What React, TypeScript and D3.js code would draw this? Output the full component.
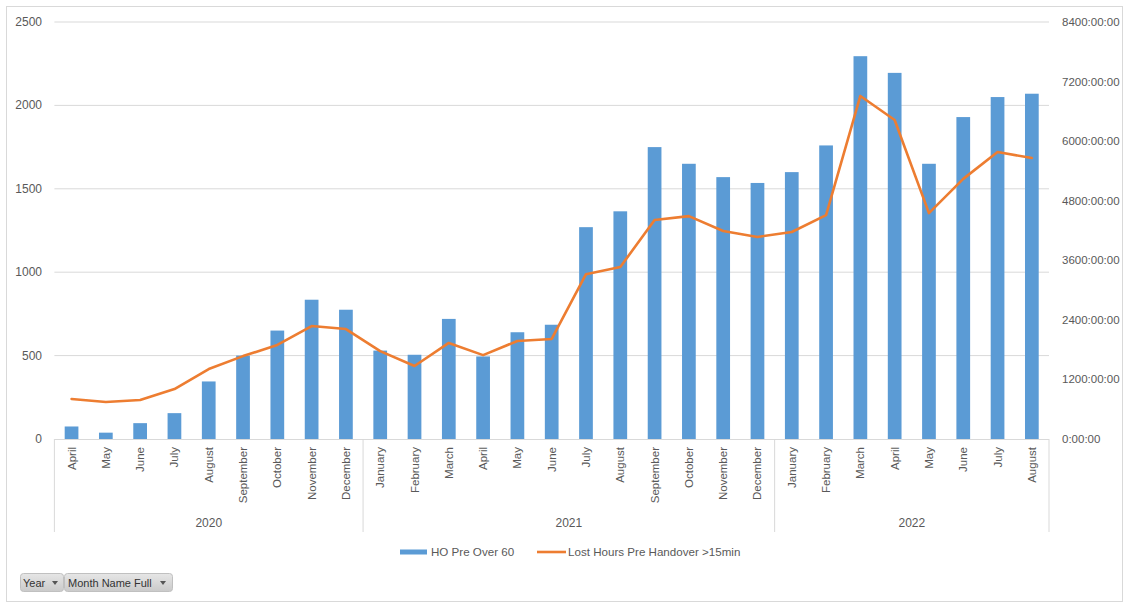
import React from "react";
import * as d3 from "d3";

const BAR_COLOR = "#5B9BD5";
const LINE_COLOR = "#ED7D31";
const GRID = "#D9D9D9";
const TEXT = "#595959";
const FONT = "'Liberation Sans', Arial, sans-serif";

const MONTHS = [
  "April", "May", "June", "July", "August", "September", "October", "November", "December",
  "January", "February", "March", "April", "May", "June", "July", "August", "September", "October", "November", "December",
  "January", "February", "March", "April", "May", "June", "July", "August",
];
const YEARS = [
  "2020", "2020", "2020", "2020", "2020", "2020", "2020", "2020", "2020",
  "2021", "2021", "2021", "2021", "2021", "2021", "2021", "2021", "2021", "2021", "2021", "2021",
  "2022", "2022", "2022", "2022", "2022", "2022", "2022", "2022",
];
// bars: HO Pre Over 60 (left axis)
const HO_PRE_OVER_60 = [
  75, 38, 95, 155, 345, 500, 650, 835, 775,
  530, 505, 720, 495, 640, 685, 1270, 1365, 1750, 1650, 1570, 1535,
  1600, 1760, 2295, 2195, 1650, 1930, 2050, 2070,
];
// line: Lost Hours Pre Handover >15min, in hours (right axis)
const LOST_HOURS = [
  805, 745, 785, 1005, 1410, 1670, 1895, 2275, 2215,
  1770, 1470, 1935, 1690, 1975, 2015, 3320, 3465, 4410, 4490, 4190, 4070,
  4170, 4510, 6910, 6425, 4550, 5240, 5780, 5660,
];
const LEFT_TICKS = [0, 500, 1000, 1500, 2000, 2500];
const RIGHT_TICKS = [0, 1200, 2400, 3600, 4800, 6000, 7200, 8400];

const W = 1126;
const H = 603;
const left = 54.4;
const right = 1049;
const top = 22;
const bottom = 439;

export default function App() {
  const idx = MONTHS.map((_, i) => i);
  const x = d3.scaleBand<number>().domain(idx).range([left, right]).paddingInner(0.6).paddingOuter(0.3);
  const step = x.step();
  const yL = d3.scaleLinear().domain([0, 2500]).range([bottom, top]);
  const yR = d3.scaleLinear().domain([0, 8400]).range([bottom, top]);
  const cx = (i: number) => (x(i) as number) + x.bandwidth() / 2;

  const line = d3.line<number>().x((_, i) => cx(i)).y((d) => yR(d));

  // year groups from the categories
  const groups: { year: string; start: number; end: number }[] = [];
  YEARS.forEach((y, i) => {
    const g = groups[groups.length - 1];
    if (g && g.year === y) g.end = i;
    else groups.push({ year: y, start: i, end: i });
  });
  const edge = (i: number) => left + i * step;

  return (
    <svg width={W} height={H} style={{ position: "absolute", left: 0, top: 0, background: "#fff" }} fontFamily={FONT}>
      <defs>
        <linearGradient id="btn" x1="0" y1="0" x2="0" y2="1">
          <stop offset="0" stopColor="#E6E6E6" />
          <stop offset="1" stopColor="#CACACA" />
        </linearGradient>
      </defs>
      <rect x={6.5} y={6.5} width={1116} height={595} fill="#fff" stroke={GRID} />

      {/* gridlines */}
      {LEFT_TICKS.filter((t) => t > 0).map((t) => (
        <line key={t} x1={left} x2={right} y1={yL(t)} y2={yL(t)} stroke={GRID} strokeWidth={1} />
      ))}
      {/* left axis labels */}
      {LEFT_TICKS.map((t) => (
        <text key={t} x={42} y={yL(t) + 4} textAnchor="end" fontSize={12} fill={TEXT}>{t}</text>
      ))}
      {/* right axis labels */}
      {RIGHT_TICKS.map((t) => (
        <text key={t} x={1062} y={yR(t) + 4} textAnchor="start" fontSize={11.5} fill={TEXT}>{`${t}:00:00`}</text>
      ))}

      {/* bars */}
      {HO_PRE_OVER_60.map((v, i) => (
        <rect key={i} x={x(i)} y={yL(v)} width={x.bandwidth()} height={bottom - yL(v)} fill={BAR_COLOR} />
      ))}

      {/* line */}
      <path d={line(LOST_HOURS) || ""} fill="none" stroke={LINE_COLOR} strokeWidth={2.6} strokeLinejoin="round" strokeLinecap="round" />

      {/* x axis */}
      <line x1={left} x2={right} y1={bottom + 0.5} y2={bottom + 0.5} stroke={GRID} />
      {MONTHS.map((m, i) => (
        <text key={i} transform={`translate(${cx(i) + 4},${447}) rotate(-90)`} textAnchor="end" fontSize={11.5} fill={TEXT}>{m}</text>
      ))}
      {[0, ...groups.map((g) => g.end + 1)].map((b, i) => (
        <line key={i} x1={edge(b)} x2={edge(b)} y1={bottom} y2={532} stroke={GRID} />
      ))}
      {groups.map((g) => (
        <text key={g.year} x={(edge(g.start) + edge(g.end + 1)) / 2} y={527} textAnchor="middle" fontSize={12} fill={TEXT}>{g.year}</text>
      ))}

      {/* legend */}
      <rect x={400} y={549.5} width={27} height={5} fill={BAR_COLOR} />
      <text x={431} y={556} fontSize={11.6} fill={TEXT}>HO Pre Over 60</text>
      <line x1={537} x2={566} y1={552} y2={552} stroke={LINE_COLOR} strokeWidth={2.6} />
      <text x={568} y={556} fontSize={11.6} fill={TEXT}>Lost Hours Pre Handover &gt;15min</text>

      {/* field buttons */}
      <rect x={20.5} y={573.5} width={43} height={18} rx={3} fill="url(#btn)" stroke="#C0C0C0" />
      <text x={23} y={586.5} fontSize={11} fill="#333">Year</text>
      <path d="M52,581 L58,581 L55,585 Z" fill="#555" />
      <rect x={64.5} y={573.5} width={108} height={18} rx={3} fill="url(#btn)" stroke="#C0C0C0" />
      <text x={68} y={586.5} fontSize={11} fill="#333">Month Name Full</text>
      <path d="M160,581 L166,581 L163,585 Z" fill="#555" />
    </svg>
  );
}
